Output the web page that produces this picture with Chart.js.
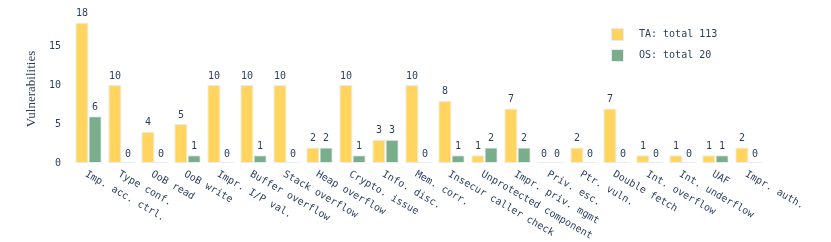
<!DOCTYPE html>
<html>
<head>
<meta charset="utf-8">
<script src="https://cdn.jsdelivr.net/npm/chart.js@4.4.1/dist/chart.umd.min.js"></script>
<style>
  html, body { margin: 0; padding: 0; background: #fff; }
  #wrap { width: 831px; height: 242px; position: relative; }
</style>
</head>
<body>
<div id="wrap"><canvas id="myChart" width="831" height="242"></canvas></div>
<script>
const categories = ['Imp. acc. ctrl.', 'Type conf.', 'OoB read', 'OoB write', 'Impr. I/P val.',
    'Buffer overflow', 'Stack overflow', 'Heap overflow', 'Crypto. issue', 'Info. disc.',
    'Mem. corr.', 'Insecur caller check', 'Unprotected component', 'Impr. priv. mgmt',
    'Priv. esc.', 'Ptr. vuln.', 'Double fetch', 'Int. overflow', 'Int. underflow', 'UAF', 'Impr. auth.'];
const taValues = [18, 10, 4, 5, 10, 10, 10, 2, 10, 3, 10, 8, 1, 7, 0, 2, 7, 1, 1, 1, 2];
const osValues = [6, 0, 0, 1, 0, 1, 0, 2, 1, 3, 0, 1, 2, 2, 0, 0, 0, 0, 0, 1, 0];
const seriesNames = ['TA: total 113', 'OS: total 20'];
const yTicks = [0, 5, 10, 15];

const textColor = '#2a3f5f';
const mono = '"DejaVu Sans Mono", monospace';

// value labels above each bar, plus the thin outline plotly leaves for 0 bars
const valueLabels = {
    id: 'valueLabels',
    afterDatasetsDraw(chart) {
        const ctx = chart.ctx;
        ctx.save();
        ctx.font = '10px ' + mono;
        ctx.fillStyle = textColor;
        ctx.textAlign = 'center';
        ctx.textBaseline = 'middle';
        chart.data.datasets.forEach((ds, i) => {
            chart.getDatasetMeta(i).data.forEach((bar, j) => {
                if (ds.data[j] === 0) {
                    ctx.fillStyle = '#E5ECF6';
                    ctx.fillRect(bar.x - bar.width / 2, bar.base - 1, bar.width, 1);
                    ctx.fillStyle = textColor;
                }
                ctx.fillText(String(ds.data[j]), bar.x, bar.y - 9);
            });
        });
        ctx.restore();
    }
};

// x labels slanted down to the right like the original
const slantedLabels = {
    id: 'slantedLabels',
    afterDraw(chart) {
        const ctx = chart.ctx;
        const xs = chart.scales.x;
        ctx.save();
        ctx.font = '10px ' + mono;
        ctx.fillStyle = textColor;
        ctx.textAlign = 'left';
        ctx.textBaseline = 'middle';
        chart.data.labels.forEach((lab, i) => {
            const x = xs.getPixelForValue(i);
            ctx.save();
            ctx.translate(x, xs.top + 12);
            ctx.rotate(Math.PI / 6);
            ctx.fillText(lab, -3, 0);
            ctx.restore();
        });
        ctx.restore();
    }
};

const boxLegend = {
    id: 'boxLegend',
    afterDraw(chart) {
        const ctx = chart.ctx;
        ctx.save();
        ctx.font = '10px ' + mono;
        ctx.textBaseline = 'middle';
        ctx.textAlign = 'left';
        chart.data.datasets.forEach((ds, i) => {
            const y = 28 + i * 21;
            ctx.fillStyle = ds.backgroundColor;
            ctx.fillRect(611, y, 13, 13);
            ctx.strokeStyle = '#E5ECF6';
            ctx.lineWidth = 1;
            ctx.strokeRect(611.5, y + 0.5, 12, 12);
            ctx.fillStyle = textColor;
            ctx.fillText(ds.label, 639, y + 6.5);
        });
        ctx.restore();
    }
};

new Chart(document.getElementById('myChart').getContext('2d'), {
    type: 'bar',
    data: {
        labels: categories,
        datasets: [{
            label: seriesNames[0],
            data: taValues,
            backgroundColor: 'rgb(255, 213, 96)',
            borderColor: '#E5ECF6',
            borderWidth: 1,
            borderSkipped: false
        }, {
            label: seriesNames[1],
            data: osValues,
            backgroundColor: 'rgb(122, 173, 140)',
            borderColor: '#E5ECF6',
            borderWidth: 1,
            borderSkipped: false
        }]
    },
    options: {
        responsive: false,
        animation: false,
        layout: { padding: { top: 15, right: 66, left: 0, bottom: 0 } },
        plugins: {
            legend: { display: false },
            tooltip: { enabled: false }
        },
        datasets: {
            bar: { categoryPercentage: 0.8, barPercentage: 1.0 }
        },
        scales: {
            x: {
                grid: { display: false },
                border: { display: false },
                ticks: { display: false },
                afterFit: function(scale) { scale.height = 79; }
            },
            y: {
                min: 0,
                max: 19,
                grid: { display: false },
                border: { display: false },
                afterBuildTicks: function(scale) {
                    scale.ticks = yTicks.map(v => ({ value: v }));
                },
                ticks: {
                    color: textColor,
                    padding: 3,
                    font: { family: mono, size: 10 }
                },
                title: {
                    display: true,
                    text: 'Vulnerabilities',
                    color: textColor,
                    font: { family: '"Liberation Serif", serif', size: 13 },
                    padding: { top: 24, bottom: 0 }
                },
                afterFit: function(scale) { scale.width = 72; }
            }
        }
    },
    plugins: [valueLabels, slantedLabels, boxLegend]
});
</script>
</body>
</html>
